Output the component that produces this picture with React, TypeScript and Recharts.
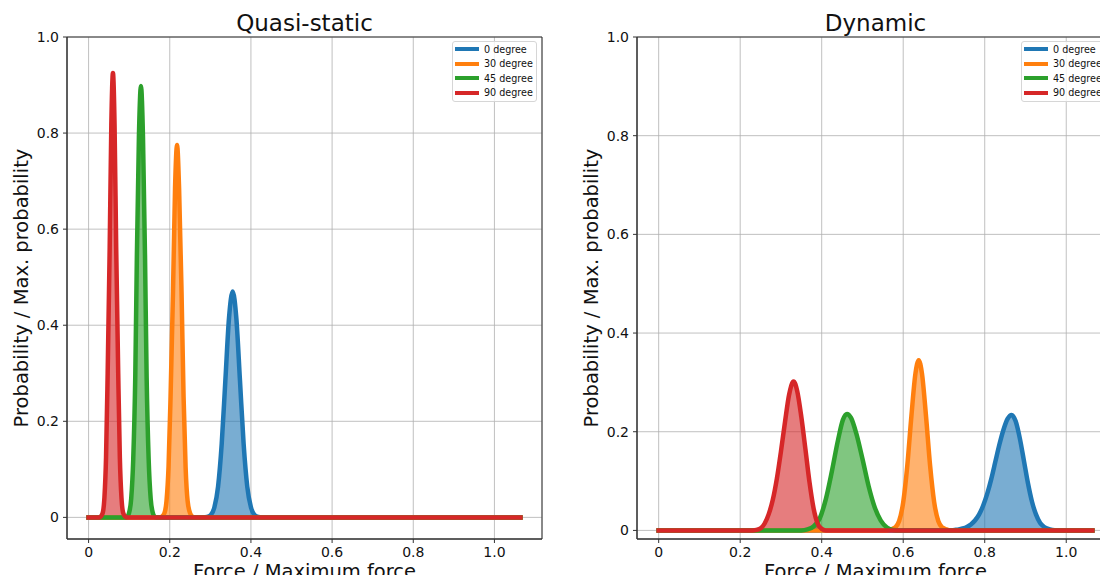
import React from 'react';
import {
  ComposedChart, Area, Line, XAxis, YAxis, CartesianGrid, ReferenceArea, Legend,
} from 'recharts';

type Pt = [number, number];

const FONT = "'DejaVu Sans', sans-serif";

const SERIES_NAMES = ['0 degree', '30 degree', '45 degree', '90 degree'];
const SERIES_COLORS = ['#1f77b4', '#ff7f0e', '#2ca02c', '#d62728'];
const AXIS_TICKS = [0, 0.2, 0.4, 0.6, 0.8, 1.0];
const X_DOMAIN: [number, number] = [-0.0532, 1.1172];

// quasi-static: [force / max force, probability / max probability]
const qs0: Pt[] = [
  [0, 0], [0.283, 0], [0.292, 0.001], [0.301, 0.005], [0.31, 0.021], [0.319, 0.064],
  [0.328, 0.153], [0.337, 0.285], [0.346, 0.415], [0.355, 0.47], [0.364, 0.415],
  [0.373, 0.285], [0.382, 0.153], [0.391, 0.064], [0.4, 0.021], [0.409, 0.005],
  [0.418, 0.001], [0.427, 0], [1.064, 0],
];
const qs30: Pt[] = [
  [0, 0], [0.176, 0], [0.181, 0.002], [0.187, 0.009], [0.192, 0.034], [0.197, 0.105],
  [0.202, 0.252], [0.208, 0.47], [0.213, 0.684], [0.218, 0.775], [0.223, 0.684],
  [0.229, 0.47], [0.234, 0.252], [0.239, 0.105], [0.244, 0.034], [0.25, 0.009],
  [0.255, 0.002], [0.26, 0], [1.064, 0],
];
const qs45: Pt[] = [
  [0, 0], [0.091, 0], [0.096, 0.002], [0.1, 0.01], [0.105, 0.039], [0.11, 0.121],
  [0.115, 0.292], [0.119, 0.545], [0.124, 0.792], [0.129, 0.898], [0.134, 0.792],
  [0.139, 0.545], [0.143, 0.292], [0.148, 0.121], [0.153, 0.039], [0.158, 0.01],
  [0.162, 0.002], [0.167, 0], [1.064, 0],
];
const qs90: Pt[] = [
  [0, 0], [0.026, 0], [0.03, 0.002], [0.035, 0.01], [0.039, 0.041], [0.043, 0.125],
  [0.047, 0.3], [0.052, 0.561], [0.056, 0.816], [0.06, 0.925], [0.064, 0.816],
  [0.068, 0.561], [0.073, 0.3], [0.077, 0.125], [0.081, 0.041], [0.085, 0.01],
  [0.09, 0.002], [0.094, 0], [1.064, 0],
];

// dynamic
const dyn0: Pt[] = [
  [0, 0], [0.716, 0], [0.726, 0.001], [0.736, 0.002], [0.746, 0.004], [0.756, 0.007],
  [0.766, 0.012], [0.776, 0.02], [0.786, 0.032], [0.796, 0.05], [0.806, 0.074],
  [0.816, 0.104], [0.826, 0.139], [0.836, 0.174], [0.846, 0.204], [0.856, 0.226],
  [0.866, 0.234], [0.876, 0.221], [0.886, 0.187], [0.896, 0.142], [0.906, 0.096],
  [0.916, 0.058], [0.926, 0.032], [0.936, 0.015], [0.946, 0.007], [0.956, 0.003],
  [0.966, 0.001], [0.976, 0], [1.064, 0],
];
const dyn30: Pt[] = [
  [0, 0], [0.56, 0], [0.57, 0.002], [0.58, 0.006], [0.59, 0.019], [0.6, 0.057],
  [0.61, 0.131], [0.62, 0.231], [0.63, 0.318], [0.638, 0.345], [0.646, 0.318],
  [0.656, 0.231], [0.666, 0.131], [0.676, 0.057], [0.686, 0.019], [0.696, 0.006],
  [0.706, 0.002], [0.716, 0], [1.064, 0],
];
const dyn45: Pt[] = [
  [0, 0], [0.35, 0], [0.365, 0.002], [0.38, 0.008], [0.395, 0.024], [0.41, 0.063],
  [0.425, 0.12], [0.44, 0.183], [0.452, 0.224], [0.462, 0.236], [0.472, 0.228],
  [0.485, 0.196], [0.5, 0.145], [0.515, 0.09], [0.53, 0.047], [0.545, 0.02],
  [0.56, 0.006], [0.575, 0.001], [0.59, 0], [1.064, 0],
];
const dyn90: Pt[] = [
  [0, 0], [0.23, 0], [0.24, 0.001], [0.25, 0.004], [0.26, 0.014], [0.27, 0.033],
  [0.28, 0.062], [0.29, 0.105], [0.3, 0.16], [0.31, 0.22], [0.32, 0.275],
  [0.331, 0.302], [0.34, 0.282], [0.35, 0.23], [0.36, 0.165], [0.37, 0.098],
  [0.38, 0.045], [0.39, 0.014], [0.4, 0.003], [0.41, 0], [1.064, 0],
];

const toRows = (pts: Pt[]) => pts.map(([x, y]) => ({ x, y }));
const fmt = (v: number) => (v === 0 ? '0' : v.toFixed(1));

const LegendBox = () => (
  <div style={{
    boxSizing: 'border-box', width: 85, background: 'rgba(255,255,255,0.8)',
    border: '1px solid #d6d6d6', borderRadius: 3, padding: '0 0 1px 2px',
    fontFamily: FONT, fontSize: 9.6, color: '#111', whiteSpace: 'nowrap',
  }}>
    {SERIES_NAMES.map((name, i) => (
      <div key={name} style={{ display: 'flex', alignItems: 'center', height: 14.5 }}>
        <span style={{ display: 'inline-block', width: 24, height: 4, background: SERIES_COLORS[i], marginRight: 5 }} />
        <span>{name}</span>
      </div>
    ))}
  </div>
);

const XTitle = (props: any) => {
  const vb = props.viewBox;
  return (
    <text x={vb.x + vb.width / 2} y={578} textAnchor="middle" fontSize={19.5} fontFamily={FONT} fill="#111">
      Force / Maximum force
    </text>
  );
};

const YTitle = (props: any) => {
  const vb = props.viewBox;
  const cy = vb.y + vb.height / 2;
  const cx = props.cx;
  return (
    <text x={cx} y={cy} transform={`rotate(-90 ${cx} ${cy})`} textAnchor="middle"
      dominantBaseline="central" fontSize={19.5} fontFamily={FONT} fill="#111">
      Probability / Max. probability
    </text>
  );
};

type PanelProps = {
  title: string;
  left: number;
  yAxisWidth: number;
  marginRight: number;
  yDomain: [number, number];
  curves: Pt[][];
  legendLeft: number;
  yTitleX: number;
};

const Panel = ({ title, left, yAxisWidth, marginRight, yDomain, curves, legendLeft, yTitleX }: PanelProps) => {
  const width = 560;
  const plotLeft = yAxisWidth;
  const plotWidth = width - yAxisWidth - marginRight;
  return (
    <div style={{ position: 'absolute', left, top: 0, width, height: 583 }}>
      <div style={{
        position: 'absolute', left: plotLeft, width: plotWidth, top: 10, textAlign: 'center',
        fontFamily: FONT, fontSize: 23, lineHeight: '27px', color: '#111', zIndex: 2,
      }}>
        {title}
      </div>
      <ComposedChart width={width} height={583} margin={{ top: 37, right: marginRight, bottom: 0, left: 0 }}>
        <CartesianGrid stroke="#b0b0b0" strokeWidth={0.8} />
        <XAxis
          dataKey="x" type="number" domain={X_DOMAIN} allowDataOverflow ticks={AXIS_TICKS}
          tickFormatter={fmt} interval={0} height={44} tickSize={4} tickMargin={4}
          axisLine={{ stroke: '#333' }} tickLine={{ stroke: '#333' }}
          tick={{ fill: '#111', fontSize: 14, fontFamily: FONT }}
          label={<XTitle />}
        />
        <YAxis
          type="number" domain={yDomain} allowDataOverflow ticks={AXIS_TICKS}
          tickFormatter={fmt} interval={0} width={yAxisWidth} tickSize={4} tickMargin={4}
          axisLine={{ stroke: '#333' }} tickLine={{ stroke: '#333' }}
          tick={{ fill: '#111', fontSize: 14, fontFamily: FONT }}
          label={<YTitle cx={yTitleX} />}
        />
        {curves.map((pts, i) => (
          <Area
            key={`a${i}`} data={toRows(pts)} dataKey="y" type="monotone" stroke="none"
            fill={SERIES_COLORS[i]} fillOpacity={0.6} baseValue={0} isAnimationActive={false}
          />
        ))}
        {curves.map((pts, i) => (
          <Line
            key={`l${i}`} data={toRows(pts)} dataKey="y" type="monotone" stroke={SERIES_COLORS[i]}
            strokeWidth={4.5} dot={false} activeDot={false} isAnimationActive={false}
            strokeLinecap="square" strokeLinejoin="round" name={SERIES_NAMES[i]}
          />
        ))}
        <ReferenceArea
          x1={X_DOMAIN[0]} x2={X_DOMAIN[1]} y1={yDomain[0]} y2={yDomain[1]}
          fill="none" stroke="#333" strokeWidth={1} ifOverflow="visible"
        />
        <Legend
          content={<LegendBox />} layout="vertical" align="center" verticalAlign="middle"
          wrapperStyle={{ left: legendLeft, top: 41, width: 85, height: 'auto' }}
        />
      </ComposedChart>
    </div>
  );
};

const App = () => (
  <div style={{ position: 'relative', width: 1108, height: 583, margin: -8, overflow: 'hidden', background: '#fff' }}>
    <Panel
      title="Quasi-static" left={0} yAxisWidth={67} marginRight={18} yDomain={[-0.045, 1]}
      curves={[qs0, qs30, qs45, qs90]} legendLeft={452} yTitleX={21}
    />
    <Panel
      title="Dynamic" left={560} yAxisWidth={77} marginRight={6} yDomain={[-0.0174, 1]}
      curves={[dyn0, dyn30, dyn45, dyn90]} legendLeft={461} yTitleX={31}
    />
  </div>
);

export default App;
